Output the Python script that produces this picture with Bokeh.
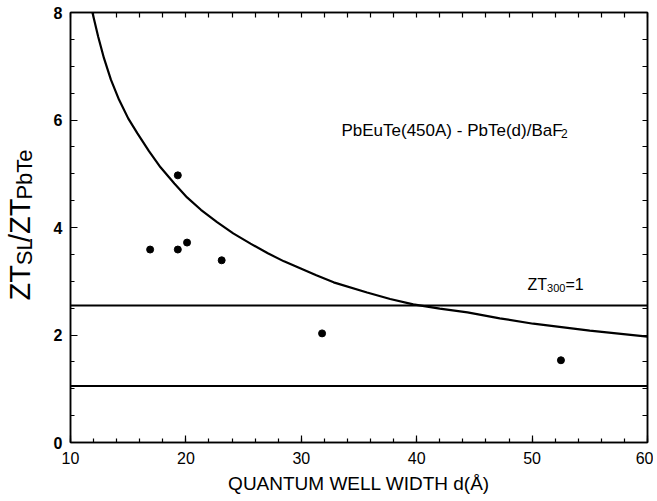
import math
import numpy as np
from bokeh.plotting import figure
from bokeh.layouts import row
from bokeh.models import Span, Label, LinearAxis, SingleIntervalTicker, FixedTicker, Range1d
from bokeh.core.properties import value
from bokeh.embed import file_html
from bokeh.resources import INLINE

# curve
curve_d = [11.9, 12.4, 12.9, 13.5, 14.2, 15.0, 15.8, 16.8, 17.8, 19.0, 20.1, 21.3, 22.7, 24.1,
           25.6, 27.1, 28.5, 29.9, 31.3, 32.8, 35.7, 37.7, 39.7, 42.0, 44.4, 47.2, 50.1, 55.0, 60.0]
curve_zt = [8.0, 7.55, 7.15, 6.75, 6.38, 6.03, 5.75, 5.42, 5.12, 4.82, 4.56, 4.33, 4.10, 3.89,
            3.70, 3.52, 3.37, 3.24, 3.11, 2.98, 2.79, 2.67, 2.57, 2.49, 2.42, 2.31, 2.21, 2.08, 1.97]

# measured points
pts_d = [16.9, 19.3, 19.3, 20.1, 23.1, 31.8, 52.5]
pts_zt = [3.59, 4.97, 3.59, 3.72, 3.39, 2.03, 1.53]

# horizontal reference levels
levels = [2.55, 1.05]

x_min, x_max, x_major, x_minor = 10, 60, 10, 2
y_min, y_max, y_major, y_minor = 0, 8, 2, 0.5

FONT = "Liberation Sans"

# ---- left strip holding the rotated y-axis title ----
p0 = figure(width=50, height=500, output_backend="svg", toolbar_location=None,
            x_range=Range1d(0, 50), y_range=Range1d(0, 500),
            min_border=0, x_axis_location=None, y_axis_location=None)
p0.grid.visible = False
p0.outline_line_color = None
p0.border_fill_color = "white"
p0.background_fill_color = "white"
p0.text(x=[19, 19], y=[185.7, 258.5], text=["ZT", "/ZT"], angle=math.pi / 2,
        text_font=value(FONT), text_font_size=value("29px"), text_color="black",
        text_align="center", text_baseline="middle")
p0.text(x=[24, 24], y=[221.8, 311.6], text=["SL", "PbTe"], angle=math.pi / 2,
        text_font=value(FONT), text_font_size=value("22px"), text_color="black",
        text_align="center", text_baseline="middle")

# ---- main plot ----
p = figure(width=603, height=500, output_backend="svg", toolbar_location=None,
           x_range=Range1d(x_min, x_max), y_range=Range1d(y_min, y_max),
           min_border_left=20, min_border_right=6, min_border_top=12, min_border_bottom=58,
           x_axis_location=None, y_axis_location=None)
p.grid.visible = False
p.outline_line_color = "black"
p.outline_line_width = 1.5
p.background_fill_color = "white"
p.border_fill_color = "white"


def style_axis(ax, ticker, bold=False):
    ax.ticker = ticker
    ax.axis_line_color = "black"
    ax.axis_line_width = 1.5
    ax.major_tick_in = 7
    ax.major_tick_out = 0
    ax.minor_tick_in = 4
    ax.minor_tick_out = 0
    ax.major_tick_line_width = 1.2
    ax.minor_tick_line_width = 1.2
    ax.major_label_text_font = FONT
    ax.major_label_text_color = "black"
    ax.major_label_text_font_size = "16px"
    ax.major_label_text_font_style = "bold" if bold else "normal"


xb = LinearAxis()
style_axis(xb, SingleIntervalTicker(interval=x_major, num_minor_ticks=int(x_major / x_minor)))
xb.major_label_standoff = 9
xb.axis_label = "QUANTUM WELL WIDTH d(Å)"
xb.axis_label_text_font = FONT
xb.axis_label_text_font_size = "19px"
xb.axis_label_text_font_style = "normal"
xb.axis_label_text_color = "black"
xb.axis_label_standoff = 6
p.add_layout(xb, "below")

yl = LinearAxis()
style_axis(yl, SingleIntervalTicker(interval=y_major, num_minor_ticks=int(y_major / y_minor)), bold=True)
yl.major_label_standoff = 8
p.add_layout(yl, "left")

# top and right: tick marks only (no labels)
xt = LinearAxis()
style_axis(xt, FixedTicker(ticks=[], minor_ticks=list(np.arange(x_min, x_max + 0.01, x_minor))))
xt.minor_tick_in = 5
xt.major_label_standoff = 0
p.add_layout(xt, "above")

yr = LinearAxis()
style_axis(yr, FixedTicker(ticks=[], minor_ticks=list(np.arange(y_min, y_max + 0.01, y_minor))))
yr.minor_tick_in = 5
yr.major_label_standoff = 0
p.add_layout(yr, "right")

for lv in levels:
    p.add_layout(Span(location=lv, dimension="width", line_color="black", line_width=2))

p.line(curve_d, curve_zt, line_color="black", line_width=2.2)
p.scatter(pts_d, pts_zt, size=7, color="black")


def lab(x, y, t, size):
    p.add_layout(Label(x=x, y=y, text=t, text_font=FONT, text_font_size=size,
                       text_color="black", text_align="left", text_baseline="alphabetic"))


lab(33.48, 5.81, "PbEuTe(450A) - PbTe(d)/BaF", "17px")
lab(52.5, 5.74, "2", "12px")
lab(49.60, 2.94, "ZT", "16px")
lab(51.30, 2.87, "300", "11px")
lab(52.89, 2.94, "=1", "16px")

layout = row(p0, p, spacing=0)
open("out.html", "w").write(file_html(layout, INLINE))
